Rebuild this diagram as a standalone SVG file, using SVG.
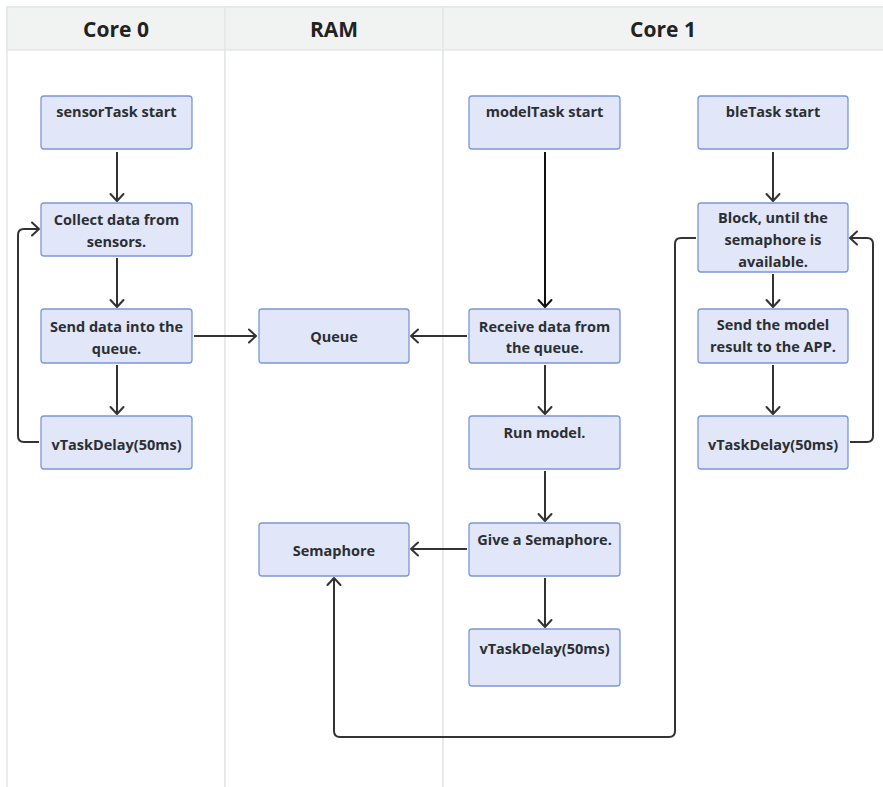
<svg xmlns="http://www.w3.org/2000/svg" width="883" height="787" viewBox="0 0 883 787">
  <defs>
    <marker id="arrow" viewBox="0 0 12 16" refX="10" refY="8" markerWidth="12" markerHeight="16" markerUnits="userSpaceOnUse" orient="auto">
      <path d="M3,1.5 L10,8 L3,14.5" fill="none" stroke="#333333" stroke-width="2" stroke-linejoin="round" stroke-linecap="round"/>
    </marker>
    <marker id="arrowDark" viewBox="0 0 12 16" refX="10" refY="8" markerWidth="12" markerHeight="16" markerUnits="userSpaceOnUse" orient="auto">
      <path d="M3,1.5 L10,8 L3,14.5" fill="none" stroke="#111111" stroke-width="2" stroke-linejoin="round" stroke-linecap="round"/>
    </marker>
  </defs>
  <style>
    .lane { fill: #ffffff; stroke: #e4e6e9; stroke-width: 1.5; }
    .head { fill: #f1f2f2; stroke: #e4e6e9; stroke-width: 1.5; }
    .htxt { font-family: "Open Sans", "Liberation Sans", sans-serif; font-weight: 700; font-size: 21px; fill: #222222; text-anchor: middle; }
    .box { fill: #e1e6f8; stroke: #7b97d6; stroke-width: 1.3; }
    .txt { font-family: "Open Sans", "Liberation Sans", sans-serif; font-weight: 700; font-size: 14.5px; fill: #2b2f33; text-anchor: middle; }
    .edge { fill: none; stroke: #333333; stroke-width: 2; stroke-linejoin: round; marker-end: url(#arrow); }
    .edge.dark { stroke: #111111; marker-end: url(#arrowDark); }
  </style>

  <rect width="883" height="787" fill="#ffffff"/>

  <!-- swimlanes -->
  <g id="lanes">
    <rect class="lane" x="7" y="7" width="218" height="790"/>
    <rect class="lane" x="225" y="7" width="218" height="790"/>
    <rect class="lane" x="443" y="7" width="445" height="790"/>
    <rect class="head" x="7" y="7" width="218" height="43"/>
    <rect class="head" x="225" y="7" width="218" height="43"/>
    <rect class="head" x="443" y="7" width="445" height="43"/>
    <text class="htxt" x="116" y="37">Core 0</text>
    <text class="htxt" x="334" y="37">RAM</text>
    <text class="htxt" x="663" y="37">Core 1</text>
  </g>

  <!-- connectors -->
  <g id="connectors">
    <path class="edge" d="M117,152 V201"/>
    <path class="edge" d="M117,258 V307"/>
    <path class="edge" d="M117,365 V414"/>
    <path class="edge" d="M39,442 H24 Q18,442 18,436 V235 Q18,229 24,229 H39"/>
    <path class="edge" d="M194,336 H256"/>
    <path class="edge" d="M467,336 H411"/>
    <path class="edge dark" d="M545,152 V307"/>
    <path class="edge" d="M545,365 V414"/>
    <path class="edge" d="M545,471 V521"/>
    <path class="edge" d="M467,549 H411"/>
    <path class="edge" d="M545,578 V627"/>
    <path class="edge" d="M773,152 V201"/>
    <path class="edge" d="M773,274 V307"/>
    <path class="edge" d="M773,365 V414"/>
    <path class="edge" d="M850,442 H867 Q873,442 873,436 V244 Q873,238 867,238 H850"/>
    <path class="edge" d="M696,238 H681 Q675,238 675,244 V731 Q675,737 669,737 H340 Q334,737 334,731 V578"/>
  </g>

  <!-- Core 0 -->
  <g id="sensorTaskStart">
    <rect class="box" x="41" y="96" width="151" height="53" rx="3"/>
    <text class="txt" x="116.5" y="117">sensorTask start</text>
  </g>
  <g id="collectData">
    <rect class="box" x="41" y="203" width="151" height="53" rx="3"/>
    <text class="txt" x="116.5" y="225">Collect data from</text>
    <text class="txt" x="116.5" y="247">sensors.</text>
  </g>
  <g id="sendData">
    <rect class="box" x="41" y="309" width="151" height="54" rx="3"/>
    <text class="txt" x="116.5" y="332">Send data into the</text>
    <text class="txt" x="116.5" y="354">queue.</text>
  </g>
  <g id="sensorDelay">
    <rect class="box" x="41" y="416" width="151" height="53" rx="3"/>
    <text class="txt" x="116.5" y="450">vTaskDelay(50ms)</text>
  </g>

  <!-- RAM -->
  <g id="queue">
    <rect class="box" x="259" y="309" width="150" height="54" rx="3"/>
    <text class="txt" x="334" y="342">Queue</text>
  </g>
  <g id="semaphore">
    <rect class="box" x="259" y="523" width="150" height="53" rx="3"/>
    <text class="txt" x="334" y="556">Semaphore</text>
  </g>

  <!-- Core 1: modelTask -->
  <g id="modelTaskStart">
    <rect class="box" x="469" y="96" width="151" height="53" rx="3"/>
    <text class="txt" x="544.5" y="117">modelTask start</text>
  </g>
  <g id="receiveData">
    <rect class="box" x="469" y="309" width="151" height="54" rx="3"/>
    <text class="txt" x="544.5" y="332">Receive data from</text>
    <text class="txt" x="544.5" y="353">the queue.</text>
  </g>
  <g id="runModel">
    <rect class="box" x="469" y="416" width="151" height="53" rx="3"/>
    <text class="txt" x="544.5" y="438">Run model.</text>
  </g>
  <g id="giveSemaphore">
    <rect class="box" x="469" y="523" width="151" height="53" rx="3"/>
    <text class="txt" x="544.5" y="545">Give a Semaphore.</text>
  </g>
  <g id="modelDelay">
    <rect class="box" x="469" y="629" width="151" height="57" rx="3"/>
    <text class="txt" x="544.5" y="654">vTaskDelay(50ms)</text>
  </g>

  <!-- Core 1: bleTask -->
  <g id="bleTaskStart">
    <rect class="box" x="698" y="96" width="150" height="53" rx="3"/>
    <text class="txt" x="773" y="117">bleTask start</text>
  </g>
  <g id="blockSemaphore">
    <rect class="box" x="698" y="203" width="150" height="69" rx="3"/>
    <text class="txt" x="773" y="223">Block, until the</text>
    <text class="txt" x="773" y="245">semaphore is</text>
    <text class="txt" x="773" y="267">available.</text>
  </g>
  <g id="sendResult">
    <rect class="box" x="698" y="309" width="150" height="54" rx="3"/>
    <text class="txt" x="773" y="330">Send the model</text>
    <text class="txt" x="773" y="352">result to the APP.</text>
  </g>
  <g id="bleDelay">
    <rect class="box" x="698" y="416" width="150" height="53" rx="3"/>
    <text class="txt" x="773" y="450">vTaskDelay(50ms)</text>
  </g>
</svg>
